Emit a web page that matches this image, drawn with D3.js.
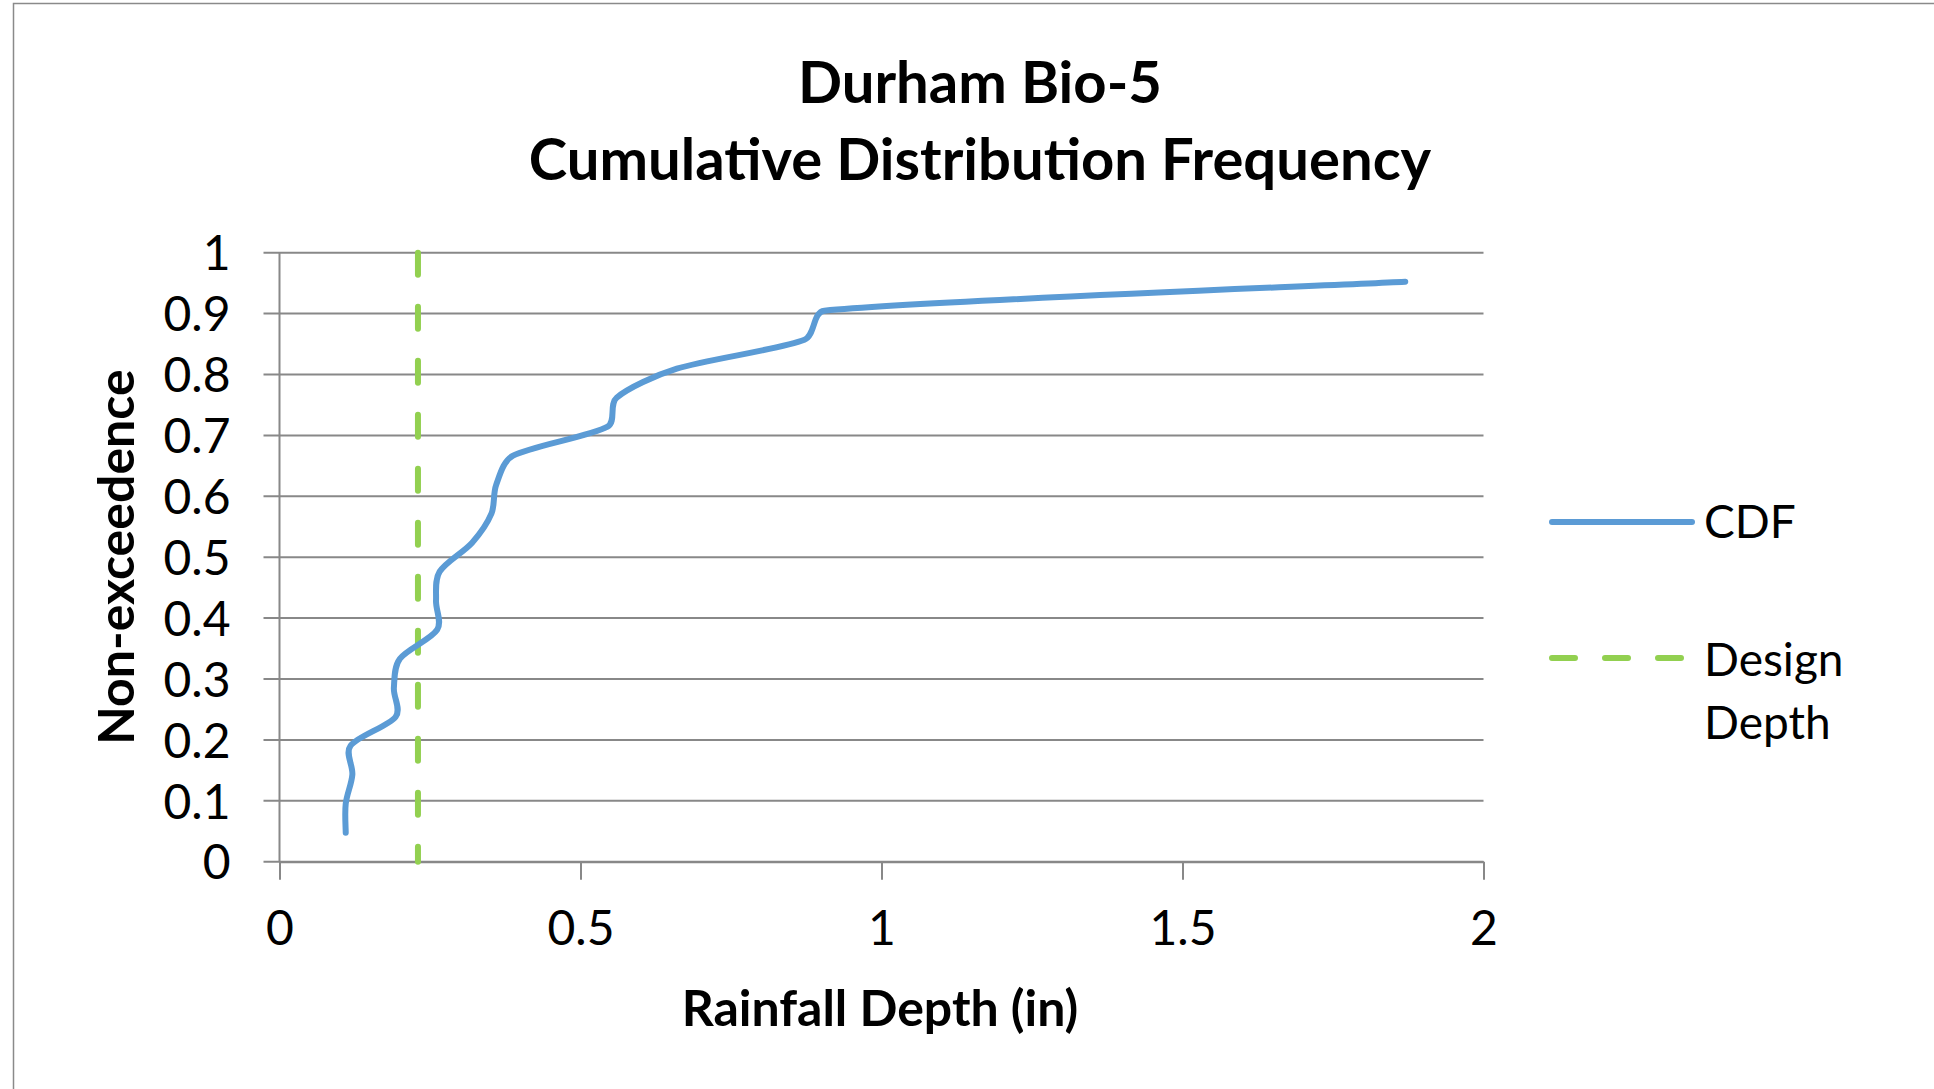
<!DOCTYPE html>
<html>
<head>
<meta charset="utf-8">
<script src="https://cdn.jsdelivr.net/npm/d3@7"></script>
<style>
    html, body { margin: 0; padding: 0; background: #fff; }
    svg { display: block; font-family: Lato, "Open Sans", sans-serif; }
</style>
</head>
<body>
<svg id="chart" width="1934" height="1089"></svg>
<script>

// DATA ========================================================================

var cdfDepth = [0.11, 0.11, 0.121, 0.118, 0.193, 0.19, 0.20, 0.262, 0.26, 0.266,
                0.32, 0.352, 0.36, 0.388, 0.545, 0.56, 0.66, 0.872, 0.905, 1.87];
var cdfProb = [0.0476, 0.0952, 0.1429, 0.1905, 0.2381, 0.2857, 0.3333, 0.3810, 0.4286, 0.4762,
               0.5238, 0.5714, 0.6190, 0.6667, 0.7143, 0.7619, 0.8095, 0.8571, 0.9048, 0.9524];

var designDepth = [0.23, 0.23];
var designProb = [0, 1];

var xTicks = [0, 0.5, 1, 1.5, 2];
var yTicks = [0, 0.1, 0.2, 0.3, 0.4, 0.5, 0.6, 0.7, 0.8, 0.9, 1];
var xTickLabels = ['0', '0.5', '1', '1.5', '2'];
var yTickLabels = ['0', '0.1', '0.2', '0.3', '0.4', '0.5', '0.6', '0.7', '0.8', '0.9', '1'];

var titleLines = ['Durham Bio-5', 'Cumulative Distribution Frequency'];
var xTitle = 'Rainfall Depth (in)';
var yTitle = 'Non-exceedence';

// Spreadsheet-style smoothed line: Catmull-Rom tangents (1/6 of the
// neighbour span) but each control arm capped at a third of its segment,
// so a long segment next to a short one doesn't overshoot.
function smoothCurve(context) {
    var pts;
    return {
        areaStart: function() {},
        areaEnd: function() {},
        lineStart: function() { pts = []; },
        point: function(px, py) { pts.push([+px, +py]); },
        lineEnd: function() {
            var n = pts.length, i;
            if (!n) return;
            context.moveTo(pts[0][0], pts[0][1]);
            function tan(k) {
                var a = pts[Math.max(k - 1, 0)], b = pts[Math.min(k + 1, n - 1)];
                return [(b[0] - a[0]) / 6, (b[1] - a[1]) / 6];
            }
            function cap(v, len) {
                var m = Math.sqrt(v[0] * v[0] + v[1] * v[1]);
                if (m > len / 3 && m > 0) return [v[0] * len / 3 / m, v[1] * len / 3 / m];
                return v;
            }
            for (i = 0; i < n - 1; i++) {
                var p = pts[i], q = pts[i + 1],
                    len = Math.sqrt((q[0] - p[0]) * (q[0] - p[0]) + (q[1] - p[1]) * (q[1] - p[1])),
                    t0 = cap(tan(i), len),
                    t1 = cap(tan(i + 1), len);
                context.bezierCurveTo(p[0] + t0[0], p[1] + t0[1],
                                      q[0] - t1[0], q[1] - t1[1],
                                      q[0], q[1]);
            }
        }
    };
}

// CHART =======================================================================

var svg = d3.select('#chart'),
    margin = {top: 252.7, left: 279.5},
    width = 1204,
    height = 609,
    gridColor = '#888888',
    blue = '#5B9BD5',
    green = '#92D050';

// outer chart border (only top and left fall inside the window)
svg.append('rect')
    .attr('x', 13.5).attr('y', 3.5)
    .attr('width', 2000).attr('height', 1200)
    .attr('fill', 'none')
    .attr('stroke', '#8a8a8a')
    .attr('stroke-width', 1.5);

var title = svg.append('text')
    .attr('text-anchor', 'middle')
    .attr('font-weight', 'bold')
    .attr('font-size', 58)
    .attr('fill', '#000');
title.selectAll('tspan')
    .data(titleLines)
    .enter().append('tspan')
        .attr('x', 980)
        .attr('y', function(d, i) { return 103 + i * 77; })
        .text(function(d) { return d; });

var g = svg.append('g')
    .attr('transform', 'translate(' + margin.left + ',' + margin.top + ')');

var x = d3.scaleLinear().domain([0, 2]).range([0, width]),
    y = d3.scaleLinear().domain([0, 1]).range([height, 0]);

// horizontal gridlines
g.append('g')
    .selectAll('line')
    .data(yTicks)
    .enter().append('line')
        .attr('x1', -16)
        .attr('x2', width)
        .attr('y1', function(d) { return y(d); })
        .attr('y2', function(d) { return y(d); })
        .attr('stroke', gridColor)
        .attr('stroke-width', 2);

// y axis labels
var yAxis = g.append('g')
    .call(d3.axisLeft(y)
        .tickValues(yTicks)
        .tickFormat(function(d, i) { return yTickLabels[i]; })
        .tickSize(0)
        .tickPadding(49));
yAxis.select('.domain').remove();
yAxis.selectAll('text')
    .attr('font-family', 'Lato, "Open Sans", sans-serif')
    .attr('font-size', 48)
    .attr('fill', '#000')
    .attr('dy', '0.36em');

// x axis
var xAxis = g.append('g')
    .attr('transform', 'translate(0,' + height + ')')
    .call(d3.axisBottom(x)
        .tickValues(xTicks)
        .tickFormat(function(d, i) { return xTickLabels[i]; })
        .tickSize(18)
        .tickSizeOuter(0)
        .tickPadding(31));
xAxis.select('.domain').attr('stroke', gridColor).attr('stroke-width', 2);
xAxis.selectAll('line').attr('stroke', gridColor).attr('stroke-width', 2);
xAxis.selectAll('text')
    .attr('font-family', 'Lato, "Open Sans", sans-serif')
    .attr('font-size', 48)
    .attr('fill', '#000');

// vertical axis line
g.append('line')
    .attr('x1', 0).attr('x2', 0)
    .attr('y1', 0).attr('y2', height)
    .attr('stroke', gridColor)
    .attr('stroke-width', 2);

// axis titles
svg.append('text')
    .attr('x', 880)
    .attr('y', 1026)
    .attr('text-anchor', 'middle')
    .attr('font-weight', 'bold')
    .attr('font-size', 50)
    .text(xTitle);

svg.append('text')
    .attr('transform', 'translate(134,557) rotate(-90)')
    .attr('text-anchor', 'middle')
    .attr('font-weight', 'bold')
    .attr('font-size', 50)
    .text(yTitle);

// series
var cdfData = cdfDepth.map(function(d, i) { return {x: d, y: cdfProb[i]}; });
var designData = designDepth.map(function(d, i) { return {x: d, y: designProb[i]}; });

var smooth = d3.line()
    .x(function(d) { return x(d.x); })
    .y(function(d) { return y(d.y); })
    .curve(smoothCurve);

var straight = d3.line()
    .x(function(d) { return x(d.x); })
    .y(function(d) { return y(d.y); });

g.append('path')
    .datum(designData.slice().reverse())
    .attr('d', straight)
    .attr('fill', 'none')
    .attr('stroke', green)
    .attr('stroke-width', 6)
    .attr('stroke-linecap', 'round')
    .attr('stroke-dasharray', '22,32');

g.append('path')
    .datum(cdfData)
    .attr('d', smooth)
    .attr('fill', 'none')
    .attr('stroke', blue)
    .attr('stroke-width', 6)
    .attr('stroke-linecap', 'round')
    .attr('stroke-linejoin', 'round');

// LEGEND ======================================================================

var legend = svg.append('g');

legend.append('line')
    .attr('x1', 1552).attr('x2', 1692)
    .attr('y1', 522).attr('y2', 522)
    .attr('stroke', blue)
    .attr('stroke-width', 6)
    .attr('stroke-linecap', 'round');

legend.append('line')
    .attr('x1', 1552).attr('x2', 1692)
    .attr('y1', 658).attr('y2', 658)
    .attr('stroke', green)
    .attr('stroke-width', 6)
    .attr('stroke-linecap', 'round')
    .attr('stroke-dasharray', '23,30');

legend.append('text')
    .attr('x', 1704).attr('y', 538)
    .attr('font-size', 46)
    .text('CDF');

var designLabel = legend.append('text')
    .attr('font-size', 46);
designLabel.append('tspan').attr('x', 1704).attr('y', 676).text('Design');
designLabel.append('tspan').attr('x', 1704).attr('y', 739).text('Depth');

</script>
</body>
</html>
